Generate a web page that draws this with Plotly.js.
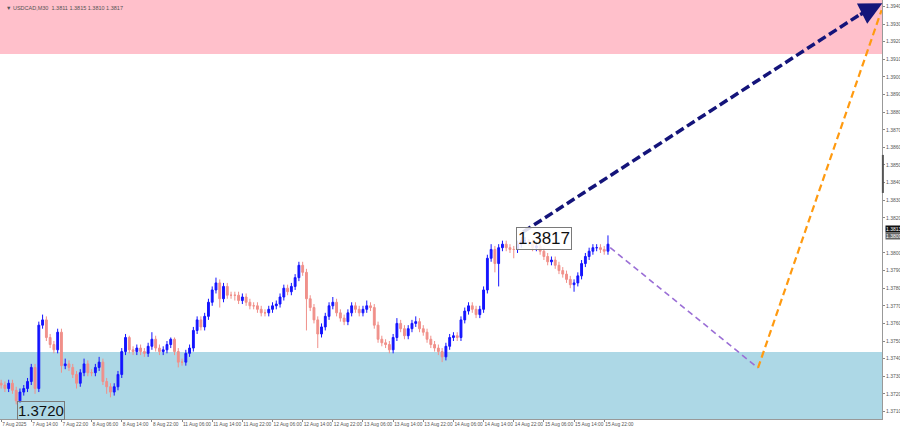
<!DOCTYPE html>
<html><head><meta charset="utf-8">
<script src="https://cdn.plot.ly/plotly-3.0.1.min.js"></script>
<style>html,body{margin:0;padding:0;background:#fff}#c{width:900px;height:430px}</style>
</head><body><div id="c"></div>
<script>
// H1 candles, USDCAD
const openP = [1.3726,1.3725,1.3723,1.3726,1.3722,1.3716,1.3721,1.3723,1.3727,1.3735,1.3723,1.3759,1.3762,1.3752,1.3748,1.3745,1.3755,1.3736,1.3737,1.3735,1.3731,1.3726,1.3732,1.3737,1.3732,1.3732,1.3735,1.3738,1.3727,1.3724,1.3721,1.3724,1.3731,1.3744,1.3752,1.3745,1.3744,1.3746,1.3744,1.3743,1.3747,1.3751,1.3746,1.3744,1.3745,1.3748,1.3751,1.3744,1.3738,1.3738,1.3743,1.3746,1.3756,1.3762,1.3758,1.3764,1.3772,1.3779,1.3783,1.3774,1.3781,1.3776,1.3776,1.3776,1.3773,1.3775,1.3772,1.3770,1.3770,1.3768,1.3766,1.3766,1.3768,1.3770,1.3771,1.3775,1.3780,1.3778,1.3781,1.3786,1.3793,1.3789,1.3774,1.3769,1.3762,1.3754,1.3758,1.3764,1.3770,1.3772,1.3766,1.3763,1.3761,1.3766,1.3770,1.3768,1.3766,1.3768,1.3770,1.3769,1.3759,1.3751,1.3749,1.3748,1.3745,1.3752,1.3760,1.3757,1.3753,1.3757,1.3760,1.3761,1.3757,1.3755,1.3751,1.3748,1.3746,1.3744,1.3741,1.3747,1.3752,1.3753,1.3752,1.3762,1.3767,1.3770,1.3768,1.3765,1.3768,1.3779,1.3797,1.3802,1.3794,1.3803,1.3805,1.3803,1.3802,1.3802,1.3805,1.3807,1.3807,1.3806,1.3803,1.3804,1.3801,1.3798,1.3795,1.3796,1.3793,1.3790,1.3788,1.3785,1.3782,1.3783,1.3787,1.3794,1.3798,1.3801,1.3803,1.3803,1.3802,1.3801];
const closeP = [1.3725,1.3723,1.3726,1.3722,1.3716,1.3721,1.3723,1.3727,1.3735,1.3723,1.3759,1.3762,1.3752,1.3748,1.3745,1.3755,1.3736,1.3737,1.3735,1.3731,1.3726,1.3732,1.3737,1.3732,1.3732,1.3735,1.3738,1.3727,1.3724,1.3721,1.3724,1.3731,1.3744,1.3752,1.3745,1.3744,1.3746,1.3744,1.3743,1.3747,1.3751,1.3746,1.3744,1.3745,1.3748,1.3751,1.3744,1.3738,1.3738,1.3743,1.3746,1.3756,1.3762,1.3758,1.3764,1.3772,1.3779,1.3783,1.3774,1.3781,1.3776,1.3776,1.3776,1.3773,1.3775,1.3772,1.3770,1.3770,1.3768,1.3766,1.3766,1.3768,1.3770,1.3771,1.3775,1.3780,1.3778,1.3781,1.3786,1.3793,1.3789,1.3774,1.3769,1.3762,1.3754,1.3758,1.3764,1.3770,1.3772,1.3766,1.3763,1.3761,1.3766,1.3770,1.3768,1.3766,1.3768,1.3770,1.3769,1.3759,1.3751,1.3749,1.3748,1.3745,1.3752,1.3760,1.3757,1.3753,1.3757,1.3760,1.3761,1.3757,1.3755,1.3751,1.3748,1.3746,1.3744,1.3741,1.3747,1.3752,1.3753,1.3752,1.3762,1.3767,1.3770,1.3768,1.3765,1.3768,1.3779,1.3797,1.3802,1.3794,1.3803,1.3805,1.3803,1.3802,1.3802,1.3805,1.3807,1.3807,1.3806,1.3803,1.3804,1.3801,1.3798,1.3795,1.3796,1.3793,1.3790,1.3788,1.3785,1.3782,1.3783,1.3787,1.3794,1.3798,1.3801,1.3803,1.3803,1.3802,1.3801,1.3805];
const highP = [1.3728,1.3727,1.3728,1.3728,1.3724,1.3723,1.3725,1.3729,1.3737,1.3737,1.3761,1.3765,1.3764,1.3754,1.3750,1.3757,1.3757,1.3740,1.3739,1.3737,1.3733,1.3734,1.3740,1.3739,1.3734,1.3737,1.3741,1.3740,1.3729,1.3726,1.3726,1.3733,1.3746,1.3754,1.3753,1.3747,1.3748,1.3748,1.3746,1.3749,1.3755,1.3753,1.3748,1.3747,1.3750,1.3752,1.3752,1.3746,1.3740,1.3745,1.3748,1.3758,1.3764,1.3764,1.3766,1.3774,1.3781,1.3786,1.3785,1.3783,1.3783,1.3778,1.3778,1.3778,1.3777,1.3777,1.3774,1.3772,1.3772,1.3770,1.3768,1.3770,1.3772,1.3773,1.3777,1.3782,1.3782,1.3783,1.3788,1.3795,1.3795,1.3791,1.3776,1.3771,1.3764,1.3760,1.3766,1.3772,1.3775,1.3774,1.3768,1.3765,1.3768,1.3772,1.3772,1.3770,1.3770,1.3773,1.3772,1.3771,1.3761,1.3753,1.3751,1.3750,1.3754,1.3763,1.3762,1.3759,1.3759,1.3762,1.3764,1.3763,1.3759,1.3757,1.3753,1.3750,1.3748,1.3746,1.3749,1.3754,1.3755,1.3755,1.3764,1.3769,1.3772,1.3772,1.3770,1.3770,1.3781,1.3799,1.3805,1.3804,1.3805,1.3807,1.3807,1.3805,1.3804,1.3807,1.3809,1.3809,1.3808,1.3808,1.3806,1.3806,1.3803,1.3800,1.3798,1.3798,1.3795,1.3792,1.3790,1.3787,1.3785,1.3789,1.3796,1.3800,1.3803,1.3805,1.3805,1.3805,1.3804,1.3810];
const lowP = [1.3723,1.3721,1.3721,1.3720,1.3714,1.3715,1.3719,1.3721,1.3725,1.3720,1.3721,1.3757,1.3750,1.3746,1.3743,1.3743,1.3732,1.3734,1.3733,1.3729,1.3723,1.3724,1.3730,1.3730,1.3730,1.3730,1.3733,1.3725,1.3720,1.3718,1.3719,1.3722,1.3729,1.3742,1.3743,1.3742,1.3742,1.3742,1.3741,1.3741,1.3745,1.3744,1.3742,1.3742,1.3743,1.3746,1.3742,1.3735,1.3736,1.3736,1.3741,1.3744,1.3754,1.3756,1.3756,1.3762,1.3770,1.3777,1.3769,1.3772,1.3774,1.3774,1.3773,1.3771,1.3771,1.3770,1.3768,1.3768,1.3766,1.3764,1.3764,1.3764,1.3766,1.3768,1.3769,1.3773,1.3776,1.3776,1.3779,1.3784,1.3787,1.3756,1.3767,1.3760,1.3746,1.3752,1.3756,1.3762,1.3768,1.3764,1.3761,1.3759,1.3759,1.3764,1.3766,1.3764,1.3764,1.3766,1.3767,1.3757,1.3749,1.3747,1.3746,1.3743,1.3743,1.3750,1.3755,1.3751,1.3751,1.3755,1.3758,1.3755,1.3753,1.3749,1.3746,1.3744,1.3742,1.3738,1.3739,1.3745,1.3750,1.3750,1.3750,1.3760,1.3765,1.3766,1.3763,1.3763,1.3766,1.3777,1.3795,1.3789,1.3781,1.3801,1.3801,1.3800,1.3797,1.3800,1.3803,1.3805,1.3804,1.3801,1.3801,1.3799,1.3796,1.3793,1.3793,1.3791,1.3788,1.3786,1.3783,1.3780,1.3778,1.3781,1.3785,1.3792,1.3796,1.3799,1.3801,1.3800,1.3799,1.3799];

const tickLabels = ["7 Aug 2025","7 Aug 14:00","7 Aug 22:00","8 Aug 06:00","8 Aug 14:00","8 Aug 22:00","11 Aug 06:00","11 Aug 14:00","11 Aug 22:00","12 Aug 06:00","12 Aug 14:00","12 Aug 22:00","13 Aug 06:00","13 Aug 14:00","13 Aug 22:00","14 Aug 06:00","14 Aug 14:00","14 Aug 22:00","15 Aug 06:00","15 Aug 14:00","15 Aug 22:00"];
const tickBars = [0,8,16,24,32,40,48,56,64,72,80,88,96,104,112,120,128,136,144,152,160];
const priceTicks = [1.371,1.372,1.373,1.374,1.375,1.376,1.377,1.378,1.379,1.380,1.382,1.383,1.384,1.385,1.386,1.387,1.388,1.389,1.390,1.391,1.392,1.393,1.394];

// zones
const resistanceZone = [1.3913, 1.3960];
const supportZone = [1.3690, 1.37437];
// forecast paths [bar, price]
const navyPath = {x:[138.5, 231.5], y:[1.3812, 1.39405]};
const navyTip = {x:233.8, y:1.39418};
const purplePath = {x:[161.6, 200.8], y:[1.3803, 1.37347]};
const orangePath = {x:[200.8, 233.6], y:[1.37347, 1.3938]};
const lowLabel = {x:10.5, y:1.37105, text:"1.3720"};
const highLabel = {x:144.0, y:1.38083, text:"1.3817"};
const header = "\u25BC USDCAD,M30  1.3811 1.3815 1.3810 1.3817";
const bidAsk = [{y:1.38138, text:'1.3813', bg:'#111'}, {y:1.38095, text:'1.3809', bg:'#666'}];

const bars = closeP.map((_, i) => i);
const FONT = "Liberation Sans, Arial, sans-serif";

const traces = [
  {type:'candlestick', x:bars, open:openP, high:highP, low:lowP, close:closeP,
   increasing:{line:{color:'#1414ff', width:1}, fillcolor:'#1414ff'},
   decreasing:{line:{color:'#f0908a', width:1}, fillcolor:'#f0908a'},
   whiskerwidth:0, hoverinfo:'skip', showlegend:false},
  {type:'scatter', mode:'lines', x:purplePath.x, y:purplePath.y,
   line:{color:'#9b6fd6', width:1.6, dash:'6px,4px'}, hoverinfo:'skip', showlegend:false},
  {type:'scatter', mode:'lines', x:orangePath.x, y:orangePath.y,
   line:{color:'#ff9a10', width:2.2, dash:'7px,4px'}, hoverinfo:'skip', showlegend:false},
  {type:'scatter', mode:'lines', x:navyPath.x, y:navyPath.y,
   line:{color:'#14147a', width:3.5, dash:'9px,4px'}, hoverinfo:'skip', showlegend:false}
];

const layout = {
  width:900, height:430,
  margin:{l:0, r:18, t:0, b:11, autoexpand:false},
  paper_bgcolor:'#ffffff', plot_bgcolor:'#ffffff',
  showlegend:false,
  font:{family:FONT, color:'#555'},
  xaxis:{range:[-0.3, 233.7], showgrid:false, zeroline:false, automargin:false,
    tickmode:'array', tickvals:tickBars, ticktext:tickLabels, tickangle:0,
    ticks:'outside', ticklen:2, tickcolor:'#888', ticklabelposition:'outside right',
    ticklabelstandoff:0, ticklabeloverflow:'allow',
    tickfont:{size:4.8, color:'#555', family:FONT},
    showline:true, linecolor:'#999', linewidth:1, rangeslider:{visible:false}, fixedrange:true},
  yaxis:{range:[1.37057, 1.39437], side:'right', showgrid:false, zeroline:false, automargin:false,
    tickmode:'array', tickvals:priceTicks, ticktext:priceTicks.map(v=>v.toFixed(4)),
    ticks:'outside', ticklen:2, tickcolor:'#888', ticklabelstandoff:0, ticklabeloverflow:'allow',
    tickfont:{size:5, color:'#555', family:FONT},
    showline:true, linecolor:'#999', linewidth:1, fixedrange:true},
  shapes:[
    {type:'rect', xref:'paper', yref:'y', x0:0, x1:1, y0:resistanceZone[0], y1:resistanceZone[1],
     fillcolor:'#ffc0cb', line:{width:0}, layer:'below'},
    {type:'rect', xref:'paper', yref:'y', x0:0, x1:1, y0:supportZone[0], y1:supportZone[1],
     fillcolor:'#add8e6', line:{width:0}, layer:'below'},
    {type:'line', xref:'paper', yref:'y', x0:1.001, x1:1.001, y0:1.38341, y1:1.38557,
     line:{color:'#555', width:2}}
  ],
  annotations:[
    {xref:'x', yref:'y', x:navyTip.x, y:navyTip.y, ax:navyPath.x[1]-4, ay:navyPath.y[1]-0.00055,
     axref:'x', ayref:'y', showarrow:true, arrowhead:2, arrowsize:1.3, arrowwidth:3.5,
     arrowcolor:'#14147a', text:''},
    {xref:'x', yref:'y', x:lowLabel.x, y:lowLabel.y, text:lowLabel.text, showarrow:false,
     font:{size:15, color:'#111', family:FONT}, bordercolor:'#7a7a7a', borderwidth:1, borderpad:0,
     bgcolor:'rgba(0,0,0,0)'},
    {xref:'x', yref:'y', x:highLabel.x, y:highLabel.y, text:highLabel.text, showarrow:false,
     font:{size:17, color:'#111', family:FONT}, bordercolor:'#7a7a7a', borderwidth:1, borderpad:1,
     bgcolor:'rgba(255,255,255,0.85)'},
    {xref:'paper', yref:'paper', x:0.004, y:0.993, xanchor:'left', yanchor:'top', text:header,
     showarrow:false, font:{size:5.5, color:'#555', family:FONT}},
    ...bidAsk.map(b => ({xref:'paper', yref:'y', x:1.003, y:b.y, xanchor:'left', text:b.text,
     showarrow:false, font:{size:5, color:'#fff', family:FONT}, bgcolor:b.bg, borderpad:0}))
  ]
};

Plotly.newPlot('c', traces, layout, {displayModeBar:false, staticPlot:true});
</script>
</body></html>
